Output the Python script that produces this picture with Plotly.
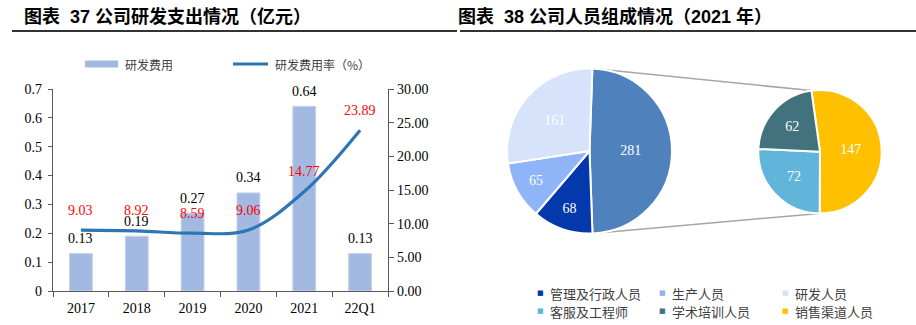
import math
import plotly.graph_objects as go

# ---------------- data ----------------
years = ["2017", "2018", "2019", "2020", "2021", "22Q1"]
rd_expense = [0.13, 0.19, 0.27, 0.34, 0.64, 0.13]          # 亿元
rd_rate = [9.03, 8.92, 8.59, 9.06, 14.77, 23.89]          # %

main_labels = ["其他", "管理及行政人员", "生产人员", "研发人员"]
main_values = [281, 68, 65, 161]
sub_labels = ["销售渠道人员", "客服及工程师", "学术培训人员"]
sub_values = [147, 72, 62]

legend_order = ["管理及行政人员", "生产人员", "研发人员",
                "客服及工程师", "学术培训人员", "销售渠道人员"]

# ---------------- styles ----------------
W, H = 916, 325
BAR_C = "#A2B9E1"
LINE_C = "#2E75B6"
AX_C = "#595959"
SERIF = "Liberation Serif, Times New Roman, serif"
CJK = "Noto Sans CJK SC"
colors = {
    "其他": "#4F81BD",
    "管理及行政人员": "#0439AD",
    "生产人员": "#8FB4F7",
    "研发人员": "#D6E3FB",
    "客服及工程师": "#62B5DA",
    "学术培训人员": "#43727F",
    "销售渠道人员": "#FFC000",
}


def px(x):
    return x / W


def py(y):
    return 1 - y / H


fig = go.Figure()

# ---------------- left chart ----------------
fig.add_trace(go.Bar(x=years, y=rd_expense, marker=dict(color=BAR_C, line=dict(color="#C5D4EE", width=1)),
                     width=0.41, name="研发费用", yaxis="y", xaxis="x", showlegend=False))
fig.add_trace(go.Scatter(x=years, y=rd_rate, mode="lines", line=dict(color=LINE_C, width=3.2, shape="spline", smoothing=1.0),
                         name="研发费用率（%）", yaxis="y2", xaxis="x", showlegend=False))

annotations = []
for i, v in enumerate(rd_expense):
    annotations.append(dict(x=i, y=v, xref="x", yref="y", text=f"{v:.2f}", showarrow=False,
                            yshift=15, font=dict(family=SERIF, size=14, color="#000000")))
for i, v in enumerate(rd_rate):
    annotations.append(dict(x=i, y=v, xref="x", yref="y2", text=f"{v:.2f}", showarrow=False,
                            yshift=20, font=dict(family=SERIF, size=14, color="#FF0000")))

# titles
TITLE_FONT = dict(family="Liberation Sans, " + CJK, size=18, color="#000000")
annotations.append(dict(x=px(22), y=py(17), xref="paper", yref="paper", xanchor="left", yanchor="middle",
                        text="<b>图表  37 公司研发支出情况（亿元）</b>", showarrow=False, font=TITLE_FONT))
annotations.append(dict(x=px(456), y=py(17), xref="paper", yref="paper", xanchor="left", yanchor="middle",
                        text="<b>图表  38 公司人员组成情况（2021 年）</b>", showarrow=False, font=TITLE_FONT))

shapes = [
    dict(type="line", xref="paper", yref="paper", x0=px(12), x1=px(457), y0=py(31), y1=py(31),
         line=dict(color="#333333", width=2)),
    dict(type="line", xref="paper", yref="paper", x0=px(460), x1=px(916), y0=py(31), y1=py(31),
         line=dict(color="#333333", width=2)),
    # left legend swatches
    dict(type="rect", xref="paper", yref="paper", x0=px(85), x1=px(118), y0=py(67.5), y1=py(60.5),
         fillcolor=BAR_C, line=dict(width=0)),
    dict(type="line", xref="paper", yref="paper", x0=px(233), x1=px(268), y0=py(64), y1=py(64),
         line=dict(color=LINE_C, width=3)),
]
LEG_FONT = dict(family=CJK, size=12, color="#404040")
annotations.append(dict(x=px(123), y=py(64), xref="paper", yref="paper", xanchor="left", yanchor="middle",
                        text="研发费用", showarrow=False, font=LEG_FONT))
annotations.append(dict(x=px(273), y=py(64), xref="paper", yref="paper", xanchor="left", yanchor="middle",
                        text="研发费用率（%）", showarrow=False, font=LEG_FONT))

# ---------------- right chart: pie of pie ----------------
main_rot = 2.0
sub_rot = -8.0
mc = (589.5, 151.0, 82.5)
sc = (820.0, 151.7, 61.7)

fig.add_trace(go.Pie(labels=main_labels, values=main_values, sort=False, direction="clockwise",
                     rotation=main_rot, textinfo="value", textposition="inside",
                     insidetextorientation="horizontal",
                     textfont=dict(family=SERIF, size=14, color="#FFFFFF"),
                     marker=dict(colors=[colors[l] for l in main_labels], line=dict(color="#FFFFFF", width=2)),
                     domain=dict(x=[px(mc[0] - mc[2]), px(mc[0] + mc[2])], y=[py(mc[1] + mc[2]), py(mc[1] - mc[2])]),
                     showlegend=False, hoverinfo="label+value"))
fig.add_trace(go.Pie(labels=sub_labels, values=sub_values, sort=False, direction="clockwise",
                     rotation=sub_rot, textinfo="value", textposition="inside",
                     insidetextorientation="horizontal",
                     textfont=dict(family=SERIF, size=14, color="#FFFFFF"),
                     marker=dict(colors=[colors[l] for l in sub_labels], line=dict(color="#FFFFFF", width=2)),
                     domain=dict(x=[px(sc[0] - sc[2]), px(sc[0] + sc[2])], y=[py(sc[1] + sc[2]), py(sc[1] - sc[2])]),
                     showlegend=False, hoverinfo="label+value"))


def edge_point(center, ang_deg):
    cx, cy, r = center
    a = math.radians(ang_deg)
    return cx + r * math.sin(a), cy - r * math.cos(a)


other_span = main_values[0] / sum(main_values) * 360
sub_span = sub_values[0] / sum(sub_values) * 360
p1 = edge_point(mc, main_rot)
p2 = edge_point(sc, sub_rot)
p3 = edge_point(mc, main_rot + other_span)
p4 = edge_point(sc, sub_rot + sub_span)
for a, b in ((p1, p2), (p3, p4)):
    shapes.append(dict(type="line", xref="paper", yref="paper", layer="below",
                       x0=px(a[0]), y0=py(a[1]), x1=px(b[0]), y1=py(b[1]),
                       line=dict(color="#A6A6A6", width=1.5)))

# pie legend (3 columns x 2 rows)
col_x = [540, 662, 785]
row_y = [293, 311]
for i, lab in enumerate(legend_order):
    cx = col_x[i % 3]
    ry = row_y[i // 3]
    annotations.append(dict(x=px(cx), y=py(ry), xref="paper", yref="paper", xanchor="center", yanchor="middle",
                            text="■", showarrow=False, font=dict(family="DejaVu Sans", size=7, color=colors[lab])))
    annotations.append(dict(x=px(cx + 8), y=py(ry), xref="paper", yref="paper", xanchor="left", yanchor="middle",
                            text=lab, showarrow=False, font=dict(family=CJK, size=13, color="#404040")))

TICK_FONT = dict(family=SERIF, size=14, color="#000000")
fig.update_layout(
    width=W, height=H, margin=dict(l=0, r=0, t=0, b=0, autoexpand=False),
    paper_bgcolor="white", plot_bgcolor="white",
    xaxis=dict(domain=[px(53), px(388)], type="category", range=[-0.5, len(years) - 0.5], autorange=False,
               automargin=False, showline=True, linecolor=AX_C, linewidth=1.3,
               ticks="outside", tickson="boundaries", ticklen=5, tickcolor=AX_C, tickwidth=1.3,
               tickfont=TICK_FONT, showgrid=False, zeroline=False, anchor="y", ticklabelstandoff=4),
    yaxis=dict(domain=[py(291), py(89)], range=[0, 0.7], dtick=0.1, showline=True, linecolor=AX_C, linewidth=1.3,
               automargin=False, ticks="outside", ticklen=4, tickcolor=AX_C, tickwidth=1.3, tickfont=TICK_FONT,
               showgrid=False, zeroline=False, anchor="x", ticklabelstandoff=3),
    yaxis2=dict(domain=[py(291), py(89)], range=[0, 30], dtick=5, tickformat=".2f", overlaying="y", side="right",
                automargin=False, showline=True, linecolor=AX_C, linewidth=1.3, ticks="outside", ticklen=5,
                tickcolor=AX_C, tickwidth=1.3, tickfont=TICK_FONT, showgrid=False, zeroline=False, anchor="x"),
    annotations=annotations, shapes=shapes, showlegend=False,
)

fig.write_html("out.html")
